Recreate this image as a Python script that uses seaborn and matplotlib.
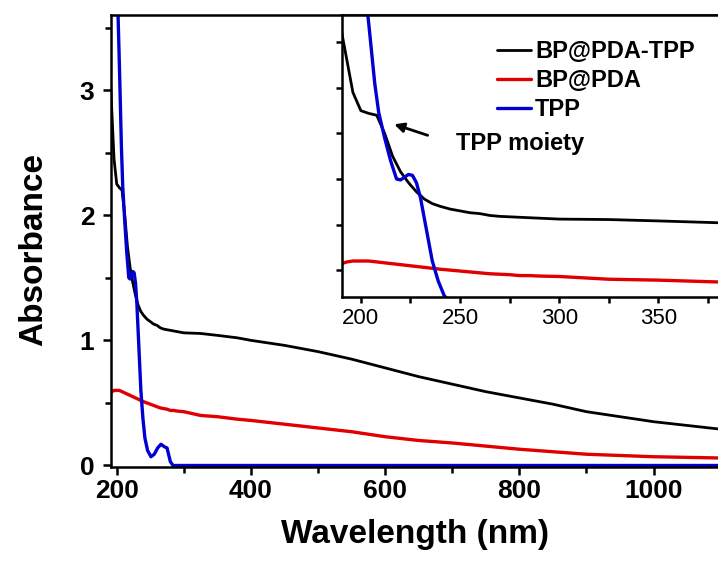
import numpy as np
import pandas as pd
import matplotlib
matplotlib.use("Agg")
import matplotlib.pyplot as plt
import seaborn as sns
from matplotlib.lines import Line2D

# ---- data ----
wl_black = [190, 193, 196, 200, 204, 208, 212, 216, 220, 224, 228, 232, 236, 240, 245, 250,
            255, 260, 265, 270, 275, 280, 285, 290, 300, 325, 350, 380, 400, 450, 500, 550,
            600, 650, 700, 750, 800, 850, 900, 950, 1000, 1050, 1100]
abs_black = [3.15, 2.80, 2.45, 2.25, 2.22, 2.20, 2.00, 1.75, 1.58, 1.46, 1.36, 1.28, 1.23, 1.20, 1.17, 1.15,
             1.13, 1.12, 1.10, 1.09, 1.085, 1.08, 1.075, 1.07, 1.06, 1.055, 1.04, 1.02, 1.00, 0.96, 0.91, 0.85,
             0.78, 0.71, 0.65, 0.59, 0.54, 0.49, 0.43, 0.39, 0.35, 0.32, 0.29]

wl_red = [190, 193, 196, 200, 204, 208, 212, 216, 220, 224, 228, 232, 236, 240, 245, 250,
          255, 260, 265, 270, 275, 280, 285, 290, 300, 325, 350, 380, 400, 450, 500, 550,
          600, 650, 700, 750, 800, 850, 900, 950, 1000, 1050, 1100]
abs_red = [0.57, 0.59, 0.60, 0.60, 0.60, 0.59, 0.58, 0.57, 0.56, 0.55, 0.54, 0.53, 0.52, 0.51, 0.50, 0.49,
           0.48, 0.47, 0.46, 0.455, 0.45, 0.44, 0.44, 0.435, 0.43, 0.40, 0.39, 0.37, 0.36, 0.33, 0.30, 0.27,
           0.23, 0.20, 0.18, 0.155, 0.13, 0.11, 0.09, 0.08, 0.07, 0.065, 0.06]

wl_blue = [195, 200, 204, 207, 209, 212, 215, 218, 220, 222, 224, 226, 228, 230, 233, 236, 239, 242,
           246, 251, 256, 261, 266, 271, 275, 280, 284, 300, 400, 500, 600, 700, 800, 900, 1000, 1100]
abs_blue = [4.60, 4.00, 3.20, 2.55, 2.23, 1.95, 1.70, 1.50, 1.49, 1.52, 1.55, 1.54, 1.46, 1.30, 0.95, 0.60, 0.38, 0.22,
            0.12, 0.07, 0.09, 0.14, 0.17, 0.15, 0.14, 0.03, 0.00, 0.00, 0.00, 0.00, 0.00, 0.00, 0.00, 0.00, 0.00, 0.00]

series_names = ["BP@PDA-TPP", "BP@PDA", "TPP"]
series_colors = ["#000000", "#e00000", "#0000d0"]

main_xticks = [200, 400, 600, 800, 1000]
main_yticks = [0, 1, 2, 3]
inset_xticks = [200, 250, 300, 350]

df = pd.concat([
    pd.DataFrame({"Wavelength": wl_black, "Absorbance": abs_black, "Sample": series_names[0]}),
    pd.DataFrame({"Wavelength": wl_red, "Absorbance": abs_red, "Sample": series_names[1]}),
    pd.DataFrame({"Wavelength": wl_blue, "Absorbance": abs_blue, "Sample": series_names[2]}),
], ignore_index=True)

sns.set_style("ticks")
plt.rcParams['font.family'] = ['Liberation Sans', 'DejaVu Sans']
plt.rcParams.update({
    'axes.linewidth': 1.8,
    'axes.edgecolor': 'black',
    'text.color': 'black',
    'axes.labelcolor': 'black',
    'xtick.color': 'black',
    'ytick.color': 'black',
})

fig = plt.figure(figsize=(7.18, 5.61), dpi=100)
ax = fig.add_axes([111/718, 1-467/561, 1-111/718, (467-15)/561])

palette = dict(zip(series_names, series_colors))
lw = {"BP@PDA-TPP": 2.0, "BP@PDA": 2.4, "TPP": 2.4}
for name in series_names:
    sub = df[df["Sample"] == name]
    sns.lineplot(data=sub, x="Wavelength", y="Absorbance", color=palette[name],
                 lw=lw[name], ax=ax, legend=False, estimator=None, sort=False)

ax.set_xlim(191.5, 1096)
ax.set_ylim(-0.012, 3.6)
ax.set_xticks(main_xticks)
ax.set_xticks(list(range(300, 1100, 200)), minor=True)
ax.set_yticks(main_yticks)
ax.set_yticks([0.5, 1.5, 2.5, 3.5], minor=True)
ax.tick_params(axis='both', which='major', direction='out', length=6, width=1.8,
               labelsize=19)
ax.tick_params(axis='both', which='minor', direction='out', length=4, width=1.8)
ax.tick_params(axis='x', which='major', pad=3)
ax.tick_params(axis='y', which='major', pad=6)
for lab in ax.get_xticklabels() + ax.get_yticklabels():
    lab.set_fontweight('bold')
ax.spines['right'].set_visible(False)
ax.set_xlabel("Wavelength (nm)", fontsize=24, fontweight='bold')
ax.set_ylabel("Absorbance", fontsize=24, fontweight='bold')
ax.xaxis.set_label_coords((415-111)/(718-111), -(519-467)/452)
ax.yaxis.set_label_coords(-(111-49)/(718-111), (467-250)/452)

# ---- inset ----
axi = fig.add_axes([342/718, 1-297/561, 1-342/718, (297-15)/561])
for name in series_names:
    sub = df[(df["Sample"] == name) & (df["Wavelength"] <= 400)]
    sns.lineplot(data=sub, x="Wavelength", y="Absorbance", color=palette[name],
                 lw=lw[name], ax=axi, legend=False, estimator=None, sort=False)
axi.set_xlim(190.5, 380)
axi.set_ylim(0.205, 3.3)
axi.set_xticks(inset_xticks)
axi.set_xticks([225, 275, 325, 375], minor=True)
axi.set_yticks([0.5, 1.0, 1.5, 2.0, 2.5, 3.0])
axi.set_yticklabels([])
axi.tick_params(axis='both', which='both', direction='out', length=4, width=1.8,
                labelsize=16, pad=4)
axi.spines['right'].set_visible(False)
axi.set_xlabel("")
axi.set_ylabel("")

handles = [Line2D([0], [0], color=c, lw=lw[n]) for n, c in zip(series_names, series_colors)]
leg = axi.legend(handles, series_names, loc='upper right', bbox_to_anchor=(0.995, 0.985),
                 frameon=False, handlelength=1.4, handletextpad=0.2, labelspacing=0.25,
                 prop={'size': 17, 'weight': 'bold'})

axi.annotate("", xy=(215.5, 2.11), xytext=(235, 1.97),
             arrowprops=dict(arrowstyle='-|>', color='black', lw=2, mutation_scale=14))
axi.text(248, 1.89, "TPP moiety", fontsize=17, fontweight='bold', ha='left', va='center')

fig.savefig("out.png", dpi=100)
